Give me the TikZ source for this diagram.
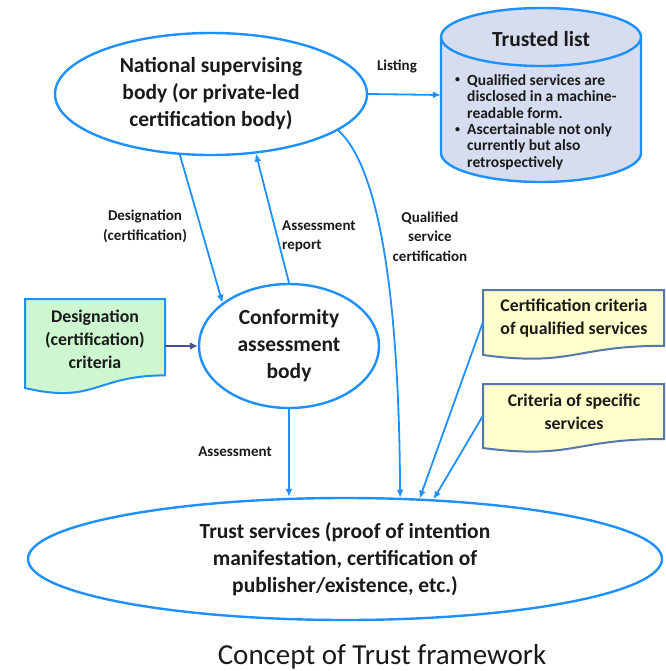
\documentclass[tikz,border=0pt]{standalone}
\usepackage{fontspec}
\setmainfont{Carlito}
\usetikzlibrary{shapes.geometric,arrows.meta}
\definecolor{lineblue}{HTML}{1E90FF}
\definecolor{cylfill}{HTML}{D7DDF0}
\definecolor{greenfill}{HTML}{CCF7CF}
\definecolor{yellowfill}{HTML}{FFFFCC}
\definecolor{yellowedge}{HTML}{5577AA}
\definecolor{darkarrow}{HTML}{46509A}
\definecolor{txt}{HTML}{1A1A1A}
\begin{document}
\begin{tikzpicture}[x=1pt,y=-1pt,
  bubble/.style={ellipse, draw=lineblue, line width=2.4pt, fill=white, inner sep=0pt,
    align=center, text=txt, font=\bfseries\fontsize{21.5}{27}\selectfont},
  flow/.style={draw=lineblue, line width=1.8pt, -{Latex[length=8pt,width=7pt]}},
  lbl/.style={text=txt, font=\bfseries\fontsize{15}{19.5}\selectfont, align=center, inner sep=0pt},
  doctext/.style={text=txt, font=\bfseries\fontsize{17.8}{23}\selectfont, align=center, inner sep=0pt},
  listtext/.style={text=txt, font=\bfseries\fontsize{15.5}{16.5}\selectfont, align=left, inner sep=0pt, anchor=west}]
\useasboundingbox (0,0) rectangle (665,671);

% ---- trusted list (cylinder) ----
\draw[draw=lineblue, line width=2.4pt, fill=cylfill]
  (441,37) -- (441,153) arc[start angle=180, end angle=360, x radius=100pt, y radius=29pt]
  -- (641,37) arc[start angle=0, end angle=180, x radius=100pt, y radius=29pt] -- cycle;
\draw[draw=lineblue, line width=2.4pt]
  (441,37) arc[start angle=180, end angle=360, x radius=100pt, y radius=29pt];
\node[inner sep=0pt, minimum width=200pt, minimum height=174pt] (tl) at (541,95) {};
\node[text=txt, font=\bfseries\fontsize{21.5}{25}\selectfont, inner sep=0pt] (tltitle) at (541,39) {Trusted list};
\node[listtext, font=\bfseries\fontsize{10}{16.5}\selectfont] (b1) at (455,80) {•};
\node[listtext] (l1) at (467,96.5) {Qualified services are\\disclosed in a machine-\\readable form.};
\node[listtext, font=\bfseries\fontsize{10}{16.5}\selectfont] (b2) at (455,130) {•};
\node[listtext] (l2) at (467,146.5) {Ascertainable not only\\currently but also\\retrospectively};

% ---- ellipses ----
\node[bubble, minimum width=312pt, minimum height=122pt] (nat) at (211,94)
  {National supervising\\body (or private-led\\certification body)};
\node[bubble, minimum width=180pt, minimum height=124pt] (conf) at (289,346)
  {Conformity\\assessment\\body};
\node[bubble, minimum width=634pt, minimum height=122pt] (ts) at (345,559)
  {Trust services (proof of intention\\manifestation, certification of\\publisher/existence, etc.)};

% ---- document shapes ----
\draw[draw=lineblue, line width=2pt, fill=greenfill]
  (25,299) -- (165,299) -- (165,375.4)
  .. controls (95,375.4) and (95,404.5) .. (25,388) -- cycle;
\node[inner sep=0pt, minimum width=140pt, minimum height=89pt] (crit) at (95,343.5) {};
\node[doctext] (critt) at (95,339) {Designation\\(certification)\\criteria};

\draw[draw=yellowedge, line width=2pt, fill=yellowfill]
  (483,290) -- (664,290) -- (664,345.8)
  .. controls (573.5,345.8) and (573.5,367) .. (483,355) -- cycle;
\node[inner sep=0pt, minimum width=181pt, minimum height=65pt] (qc) at (573.5,322.5) {};
\node[doctext] (qct) at (574,318.5) {Certification criteria\\of qualified services};

\draw[draw=yellowedge, line width=2pt, fill=yellowfill]
  (483,384) -- (664,384) -- (664,439)
  .. controls (573.5,439) and (573.5,459.8) .. (483,448) -- cycle;
\node[inner sep=0pt, minimum width=181pt, minimum height=64pt] (sc) at (573.5,416) {};
\node[doctext] (sct) at (574,411.5) {Criteria of specific\\services};

% ---- connectors ----
\draw[flow] (nat.east) -- (tl.west);
\node[lbl] (listing) at (397,66) {Listing};

\draw[flow] (nat.243) -- (conf.147);
\node[lbl] (desig) at (145,226.5) {Designation\\(certification)};

\draw[flow] (conf.north) -- (nat.-53);
\node[lbl, align=left, anchor=west] (arep) at (282,236.5) {Assessment\\report};

\draw[flow] (nat.-16) .. controls (380,168) and (399,300) .. (ts.48.6);
\node[lbl] (qsc) at (430,236.5) {Qualified\\service\\certification};

\draw[flow] (conf.south) -- (ts.north -| conf.south);
\node[lbl] (assess) at (235,452) {Assessment};

\draw[flow] (qc.west) -- (ts.39);
\draw[flow] (sc.west) -- (ts.34.7);

\draw[draw=darkarrow, line width=2.2pt, -{Latex[length=8pt,width=8pt]}] (crit.east |- conf.west) -- (conf.west);

% ---- caption ----
\node[text=txt, font=\fontsize{29}{34}\selectfont, inner sep=0pt] (cap) at (382,657) {Concept of Trust framework};
\end{tikzpicture}
\end{document}
